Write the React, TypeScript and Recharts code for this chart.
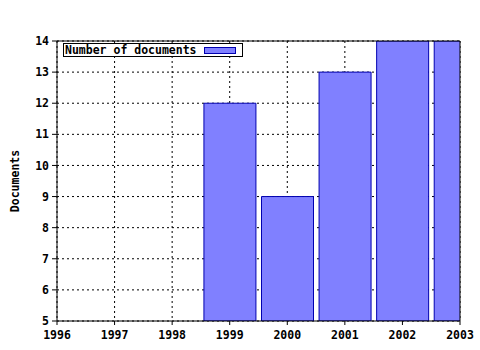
import { BarChart, Bar, XAxis, YAxis, CartesianGrid, Legend } from 'recharts';

const years = [1999, 2000, 2001, 2002, 2003];
const documents = [12, 9, 13, 14, 14];
const yearTicks = [1996, 1997, 1998, 1999, 2000, 2001, 2002, 2003];
const quarterTicks = [
  1996, 1996.25, 1996.5, 1996.75, 1997, 1997.25, 1997.5, 1997.75, 1998, 1998.25, 1998.5, 1998.75,
  1999, 1999.25, 1999.5, 1999.75, 2000, 2000.25, 2000.5, 2000.75, 2001, 2001.25, 2001.5, 2001.75,
  2002, 2002.25, 2002.5, 2002.75, 2003,
];
const docTicks = [5, 6, 7, 8, 9, 10, 11, 12, 13, 14];

const FONT = '"DejaVu Sans Mono", monospace';
const BAR_FILL = '#8080ff';
const BAR_STROKE = '#0000b0';

const chartData = years.map((y, i) => ({ year: y, docs: documents[i] }));

function LegendBox() {
  return (
    <div
      style={{
        width: 178,
        height: 12,
        border: '1px solid #000',
        background: '#fff',
        fontFamily: FONT,
        fontWeight: 'bold',
        fontSize: 11.5,
        lineHeight: '12px',
        position: 'relative',
        boxSizing: 'content-box',
      }}
    >
      <span style={{ position: 'absolute', left: 1, top: 0 }}>Number of documents</span>
      <span
        style={{
          position: 'absolute',
          left: 140,
          top: 3,
          width: 30,
          height: 5,
          background: BAR_FILL,
          border: `1px solid ${BAR_STROKE}`,
        }}
      />
    </div>
  );
}

export default function App() {
  const tickStyle = { fill: '#000', fontSize: 11.5, fontFamily: FONT, fontWeight: 'bold' as const };
  return (
    <div style={{ position: 'fixed', left: 0, top: 0, width: 480, height: 350, background: '#fff' }}>
      <BarChart
        width={480}
        height={350}
        data={chartData}
        margin={{ top: 41, right: 20, left: 0, bottom: 0 }}
        barSize={52}
      >
        <CartesianGrid
          stroke="#000"
          strokeDasharray="2 3"
          horizontalValues={docTicks}
          verticalValues={yearTicks}
        />
        <XAxis
          dataKey="year"
          type="number"
          domain={[1996, 2003]}
          ticks={yearTicks}
          allowDataOverflow
          interval={0}
          height={29}
          tickSize={4}
          tickMargin={6}
          tick={tickStyle}
          stroke="#000"
          axisLine={{ stroke: '#000' }}
          tickLine={{ stroke: '#000' }}
        />
        <XAxis
          xAxisId="minor"
          dataKey="year"
          type="number"
          domain={[1996, 2003]}
          ticks={quarterTicks}
          allowDataOverflow
          interval={0}
          mirror
          tickSize={3}
          tick={false}
          axisLine={false}
          tickLine={{ stroke: '#000' }}
        />
        <XAxis
          xAxisId="top"
          orientation="top"
          dataKey="year"
          type="number"
          domain={[1996, 2003]}
          ticks={quarterTicks}
          allowDataOverflow
          interval={0}
          mirror
          tickSize={3}
          tick={false}
          axisLine={{ stroke: '#000' }}
          tickLine={{ stroke: '#000' }}
        />
        <YAxis
          type="number"
          domain={[5, 14]}
          ticks={docTicks}
          allowDataOverflow
          interval={0}
          width={57}
          tickSize={5}
          tickMargin={3}
          tick={tickStyle}
          axisLine={{ stroke: '#000' }}
          tickLine={{ stroke: '#000' }}
          label={{
            value: 'Documents',
            angle: -90,
            position: 'insideLeft',
            dx: 10,
            style: { fill: '#000', fontSize: 11.5, fontFamily: FONT, fontWeight: 'bold', textAnchor: 'middle' },
          }}
        />
        <YAxis
          yAxisId="right"
          orientation="right"
          type="number"
          domain={[5, 14]}
          ticks={docTicks}
          mirror
          tick={false}
          tickLine={false}
          axisLine={{ stroke: '#000' }}
        />
        <Legend
          layout="vertical"
          align="center"
          verticalAlign="middle"
          wrapperStyle={{ top: 43, left: 63, width: 'auto' }}
          content={() => <LegendBox />}
        />
        <Bar
          dataKey="docs"
          fill={BAR_FILL}
          stroke={BAR_STROKE}
          strokeWidth={1}
          isAnimationActive={false}
        />
      </BarChart>
    </div>
  );
}
